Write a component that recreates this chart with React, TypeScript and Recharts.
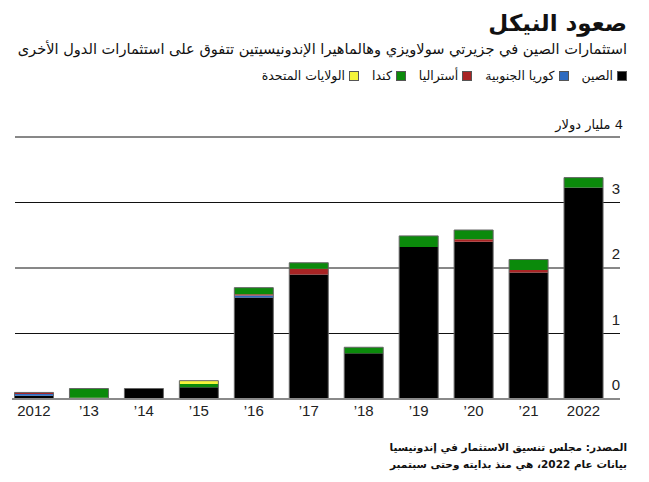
import { BarChart, Bar, XAxis, YAxis, CartesianGrid, ReferenceLine } from "recharts";

const years = ["2012", "’13", "’14", "’15", "’16", "’17", "’18", "’19", "’20", "’21", "2022"];
const china = [0.05, 0.01, 0.16, 0.18, 1.55, 1.9, 0.7, 2.32, 2.4, 1.93, 3.23];
const korea = [0.025, 0, 0, 0, 0.03, 0, 0, 0, 0, 0, 0];
const australia = [0.025, 0.01, 0, 0, 0.02, 0.09, 0, 0, 0.04, 0.04, 0];
const canada = [0, 0.14, 0, 0.05, 0.1, 0.09, 0.09, 0.17, 0.14, 0.16, 0.15];
const usa = [0, 0, 0, 0.05, 0, 0, 0, 0, 0, 0, 0];
const yTicks = [0, 1, 2, 3, 4];

const legend = [
  { name: "الصين", color: "#000000" },
  { name: "كوريا الجنوبية", color: "#2f6bbf" },
  { name: "أستراليا", color: "#a82424" },
  { name: "كندا", color: "#0b8a0b" },
  { name: "الولايات المتحدة", color: "#f4f43a" },
];

const data = years.map((year, i) => ({
  year,
  china: china[i],
  korea: korea[i],
  australia: australia[i],
  canada: canada[i],
  usa: usa[i],
  total: china[i] + korea[i] + australia[i] + canada[i] + usa[i],
}));

const arabic = '"DejaVu Sans", sans-serif';
const latin = '"Liberation Sans", Arial, sans-serif';

function GridLine(props: any) {
  return <line key={props.key} x1={15} x2={620} y1={props.y1} y2={props.y2} stroke="#111" strokeWidth={1} />;
}

function BaseLine(props: any) {
  return <line x1={12} x2={620} y1={props.y1} y2={props.y2} stroke="#8a8a8a" strokeWidth={2} />;
}

function YTick({ x, y, payload }: any) {
  if (payload.value === 4) {
    return (
      <text x={x + 4} y={y - 8} direction="rtl" textAnchor="start" fontSize={13} fill="#111" fontFamily={arabic}>
        4 مليار دولار
      </text>
    );
  }
  return (
    <text x={x - 3} y={y - 9} textAnchor="middle" fontSize={15} fill="#222" fontFamily={latin}>
      {payload.value}
    </text>
  );
}

export default function App() {
  return (
    <div style={{ position: "absolute", left: 0, top: 0, width: 649, height: 482, background: "#fff", fontFamily: arabic, color: "#111" }}>
      {/* Title */}
      <div dir="rtl" style={{ position: "absolute", right: 22, top: 10, fontSize: 23, fontWeight: "bold", whiteSpace: "nowrap" }}>
        صعود النيكل
      </div>
      <div dir="rtl" style={{ position: "absolute", right: 22, top: 40, fontSize: 14.6, whiteSpace: "nowrap" }}>
        استثمارات الصين في جزيرتي سولاويزي وهالماهيرا الإندونيسيتين تتفوق على استثمارات الدول الأخرى
      </div>

      {/* Legend */}
      <div dir="rtl" style={{ position: "absolute", right: 22, top: 68, display: "flex", gap: 13, fontSize: 12.5, whiteSpace: "nowrap" }}>
        {legend.map((l) => (
          <div key={l.name} style={{ display: "flex", alignItems: "center", gap: 4 }}>
            <span style={{ width: 10, height: 10, background: l.color, border: "1px solid #555", boxSizing: "border-box", display: "inline-block" }}></span>
            <span>{l.name}</span>
          </div>
        ))}
      </div>

      {/* Chart */}
      <div style={{ position: "absolute", left: 0, top: 0 }}>
        <BarChart width={649} height={482} data={data} margin={{ top: 137, right: 0, bottom: 53, left: 6.5 }} barSize={39}>
          <CartesianGrid vertical={false} horizontal={GridLine} />
          <XAxis
            dataKey="year"
            axisLine={false}
            tickLine={false}
            interval={0}
            height={30}
            tickMargin={0}
            tick={{ fill: "#222", fontSize: 15, fontFamily: latin }}
          />
          <XAxis xAxisId="outline" dataKey="year" hide />
          <YAxis orientation="right" domain={[0, 4]} ticks={yTicks} width={38} axisLine={false} tickLine={false} tick={YTick} />
          <Bar dataKey="china" stackId="a" fill="#000000" isAnimationActive={false} />
          <Bar dataKey="korea" stackId="a" fill="#2f6bbf" isAnimationActive={false} />
          <Bar dataKey="australia" stackId="a" fill="#a82424" isAnimationActive={false} />
          <Bar dataKey="canada" stackId="a" fill="#0b8a0b" isAnimationActive={false} />
          <Bar dataKey="usa" stackId="a" fill="#f4f43a" isAnimationActive={false} />
          <Bar xAxisId="outline" dataKey="total" fill="none" stroke="#666" strokeWidth={1} isAnimationActive={false} />
          <ReferenceLine y={0} shape={BaseLine} />
        </BarChart>
      </div>

      {/* Source */}
      <div dir="rtl" style={{ position: "absolute", right: 22, top: 439, fontSize: 10.5, fontWeight: "bold", lineHeight: "17px", whiteSpace: "nowrap" }}>
        <div>المصدر: مجلس تنسيق الاستثمار في إندونيسيا</div>
        <div>بيانات عام 2022، هي منذ بدايته وحتى سبتمبر</div>
      </div>
    </div>
  );
}
